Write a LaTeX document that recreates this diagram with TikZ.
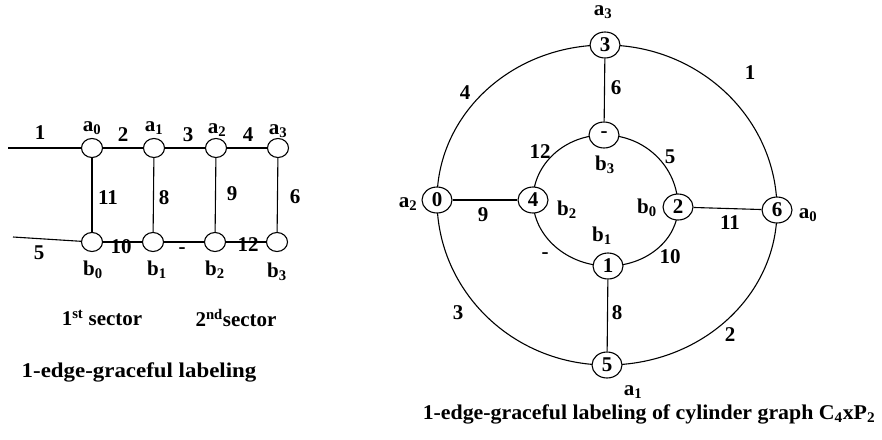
\documentclass[tikz,border=0pt]{standalone}
\usepackage{fontspec}
\setmainfont{Liberation Serif}
\usetikzlibrary{shapes.geometric,backgrounds}
\begin{document}
\begin{tikzpicture}[x=1pt,y=1pt,
  every node/.style={font=\fontsize{21}{24}\selectfont\bfseries, inner sep=0pt},
  vs/.style={ellipse, draw, fill=white, line width=1.1pt, minimum width=21pt, minimum height=19pt},
  vb/.style={ellipse, draw, fill=white, line width=1.1pt, minimum width=30pt, minimum height=26pt},
  ed/.style={line width=1.1pt},
  arc/.style={line width=1.1pt}]
\useasboundingbox (0,0) rectangle (882,-439);

% ---------------- left figure ----------------
\node[vs] (a0) at (92,-148) {};
\node[vs] (a1) at (154,-148) {};
\node[vs] (a2) at (216,-148) {};
\node[vs] (a3) at (278,-148) {};
\node[vs] (b0) at (92,-242) {};
\node[vs] (b1) at (153,-242) {};
\node[vs] (b2) at (215,-242) {};
\node[vs] (b3) at (277,-242) {};
\coordinate (l1) at (8,-148);
\coordinate (l2) at (13,-237);

\draw[ed] (l1) -- (a0);
\draw[ed] (a0) -- (a1);
\draw[ed] (a1) -- (a2);
\draw[ed] (a2) -- (a3);
\draw[ed] (l2) -- (b0);
\draw[ed] (b0) -- (b1);
\draw[ed] (b1) -- (b2);
\draw[ed] (b2) -- (b3);
\draw[ed] (a0) -- (b0);
\draw[ed] (a1) -- (b1);
\draw[ed] (a2) -- (b2);
\draw[ed] (a3) -- (b3);

\node (ta0) at (92,-128) {a\textsubscript{0}};
\node (ta1) at (154,-128) {a\textsubscript{1}};
\node (ta2) at (217,-130) {a\textsubscript{2}};
\node (ta3) at (278,-131) {a\textsubscript{3}};
\node (tb0) at (93,-270) {b\textsubscript{0}};
\node (tb1) at (157,-270) {b\textsubscript{1}};
\node (tb2) at (215,-270) {b\textsubscript{2}};
\node (tb3) at (277,-272) {b\textsubscript{3}};

\node (e1) at (40,-133) {1};
\node (e2) at (123,-135) {2};
\node (e3) at (188,-135) {3};
\node (e4) at (248,-135) {4};
\node (e11) at (108,-198) {11};
\node (e8) at (164,-198) {8};
\node (e9) at (232,-194) {9};
\node (e6) at (295,-197) {6};
\node (e5) at (39,-253) {5};
\node (e10) at (121,-247) {10};
\node (e7) at (182,-251) {-};
\node (e12) at (248,-245) {12};

\node (s1) at (102,-318) {1\textsuperscript{st} sector};
\node (s2) at (236,-318) {2\textsuperscript{nd}sector};
\node (capl) at (139,-372) {\scalebox{1.09}[1]{1-edge-graceful labeling}};

% ---------------- right figure ----------------
\node[vb] (ra3) at (605,-45) {3};
\node[vb] (ra2) at (437,-200) {0};
\node[vb] (ra0) at (777,-210) {6};
\node[vb] (ra1) at (607,-365) {5};
\node[vb] (rb3) at (604,-135) {-};
\node[vb] (rb2) at (533,-200) {4};
\node[vb] (rb0) at (678,-207) {2};
\node[vb] (rb1) at (608,-266) {1};

\begin{scope}[on background layer]
\draw[arc] (ra3.center) .. controls +(-93,0) and +(0,86) .. (ra2.center);
\draw[arc] (ra3.center) .. controls +(95,0) and +(0,91) .. (ra0.center);
\draw[arc] (ra2.center) .. controls +(0,-91) and +(-94,0) .. (ra1.center);
\draw[arc] (ra0.center) .. controls +(0,-86) and +(94,0) .. (ra1.center);
\draw[arc] (rb3.center) .. controls +(-39,0) and +(0,36) .. (rb2.center);
\draw[arc] (rb3.center) .. controls +(41,0) and +(0,40) .. (rb0.center);
\draw[arc] (rb2.center) .. controls +(0,-36) and +(-41,0) .. (rb1.center);
\draw[arc] (rb0.center) .. controls +(0,-33) and +(38,0) .. (rb1.center);
\end{scope}
\draw[ed] (ra3) -- (rb3);
\draw[ed] (ra2) -- (rb2);
\draw[ed] (rb0) -- (ra0);
\draw[ed] (rb1) -- (ra1);

\node (ra3l) at (603,-12) {a\textsubscript{3}};
\node (ra2l) at (408,-204) {a\textsubscript{2}};
\node (ra0l) at (808,-215) {a\textsubscript{0}};
\node (ra1l) at (633,-392) {a\textsubscript{1}};
\node (rb3l) at (605,-165) {b\textsubscript{3}};
\node (rb2l) at (567,-210) {b\textsubscript{2}};
\node (rb0l) at (647,-208) {b\textsubscript{0}};
\node (rb1l) at (602,-236) {b\textsubscript{1}};

\node (r4) at (465,-93) {4};
\node (r6) at (616,-88) {6};
\node (r1) at (750,-73) {1};
\node (r12) at (540,-152) {12};
\node (r5) at (670,-157) {5};
\node (r9) at (483,-215) {9};
\node (r11) at (730,-223) {11};
\node (r7) at (545,-256) {-};
\node (r10) at (670,-257) {10};
\node (r8) at (617,-313) {8};
\node (r3) at (458,-313) {3};
\node (r2) at (730,-335) {2};

\node (capr) at (649,-414) {\scalebox{1.04}[1]{1-edge-graceful labeling of cylinder graph C\textsubscript{4}xP\textsubscript{2}}};
\end{tikzpicture}
\end{document}
